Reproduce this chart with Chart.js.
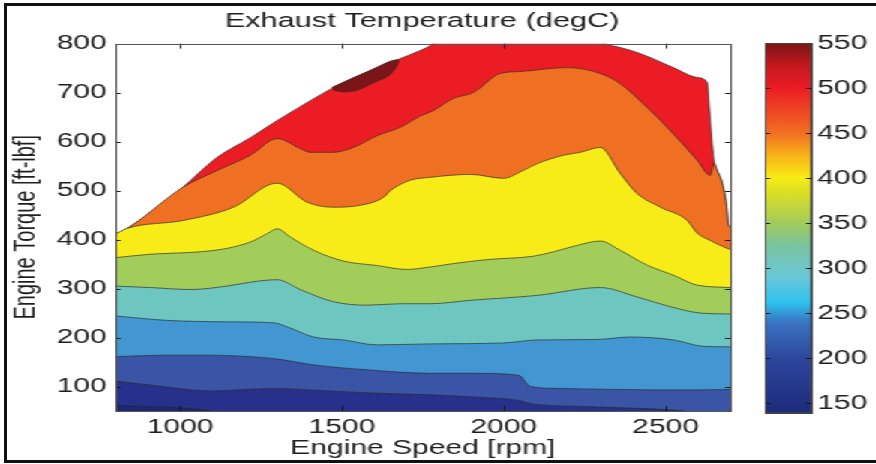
<!DOCTYPE html>
<html>
<head>
<meta charset="utf-8">
<title>Exhaust Temperature</title>
<script src="https://cdn.jsdelivr.net/npm/chart.js@4.4.1/dist/chart.umd.min.js"></script>
<style>
  html, body { margin: 0; padding: 0; background: #fff; }
  #figure { position: relative; width: 876px; height: 464px; overflow: hidden; background: #fff; }
  #frame { position: absolute; left: 4px; top: 3px; width: 900px; height: 460px; border: 3px solid #111; box-sizing: border-box; pointer-events: none; }
  /* the figure is drawn narrow and stretched sideways, like the exported plot */
  #stretch { position: absolute; left: 0; top: 0; width: 584px; height: 464px; transform: scaleX(1.5); transform-origin: 0 0; }
  #mapBox { position: absolute; left: 0; top: 0; width: 563px; height: 464px; }
  #barBox { position: absolute; left: 500px; top: 0; width: 84px; height: 464px; }
</style>
</head>
<body>
<div id="figure">
  <div id="stretch">
    <div id="mapBox"><canvas id="mapChart"></canvas></div>
    <div id="barBox"><canvas id="barChart"></canvas></div>
  </div>
  <div id="frame"></div>
</div>
<script>
const rpmTicks = [1000, 1500, 2000, 2500];
const torqueTicks = [100, 200, 300, 400, 500, 600, 700, 800];
const tempTicks = [150, 200, 250, 300, 350, 400, 450, 500, 550];
const tempRange = [139, 550];

// outline of the measured map [rpm, ft-lbf]
const mapEdge = [[800, 411], [831, 421], [856, 431], [1007, 506], [1115, 568], [1217, 608], [1300, 643],
  [1393, 680], [1473, 710], [1566, 739], [1671, 767], [1742, 786], [1773, 796], [1790, 806], [2290, 806],
  [2320, 798], [2360, 792], [2412, 782], [2462, 769], [2524, 751], [2598, 731], [2629, 720], [2634, 680],
  [2641, 620], [2650, 560], [2660, 540], [2675, 515], [2688, 470], [2694, 430], [2700, 425]];

// isotherms, each one the upper edge of the band below it [rpm, ft-lbf]
const iso500 = [[800, 411], [831, 421], [856, 431], [1007, 506], [1115, 541], [1217, 572], [1300, 606],
  [1371, 586], [1402, 578], [1473, 578], [1535, 588], [1609, 612], [1680, 629], [1742, 652], [1782, 663],
  [1844, 688], [1906, 700], [1989, 739], [2051, 743], [2196, 751], [2298, 739], [2360, 718], [2443, 670],
  [2514, 623], [2598, 562], [2638, 531], [2650, 556], [2660, 540], [2675, 515], [2688, 470], [2694, 430],
  [2700, 425]];
const iso450 = [[800, 411], [837, 423], [1010, 439], [1165, 466], [1300, 515], [1393, 476], [1473, 466],
  [1557, 470], [1628, 486], [1650, 500], [1711, 521], [1773, 527], [1897, 533], [1999, 525], [2060, 541],
  [2104, 555], [2184, 572], [2236, 578], [2298, 588], [2360, 535], [2412, 494], [2484, 466], [2567, 439],
  [2598, 413], [2638, 398], [2690, 382], [2700, 380]];
const iso400 = [[800, 363], [908, 370], [1063, 375], [1145, 382], [1217, 395], [1269, 412], [1300, 422],
  [1341, 405], [1413, 378], [1505, 356], [1608, 347], [1701, 339], [1773, 344], [1845, 351], [1948, 359],
  [2092, 366], [2154, 375], [2226, 388], [2298, 397], [2360, 378], [2442, 348], [2525, 327], [2597, 307],
  [2700, 302]];
const iso350 = [[800, 305], [908, 302], [1032, 298], [1145, 305], [1227, 314], [1300, 318], [1371, 298],
  [1474, 273], [1578, 266], [1680, 269], [1773, 269], [1897, 276], [2103, 286], [2298, 302], [2411, 283],
  [2514, 263], [2607, 250], [2700, 248]];
const iso300 = [[800, 244], [960, 235], [1145, 232], [1289, 230], [1330, 222], [1413, 201], [1505, 195],
  [1608, 185], [1773, 187], [1999, 189], [2103, 195], [2288, 196], [2391, 201], [2525, 195], [2617, 182],
  [2700, 181]];
const iso250 = [[800, 161], [960, 164], [1063, 164], [1289, 157], [1413, 144], [1578, 134], [1773, 127],
  [1897, 127], [2046, 123], [2082, 100], [2175, 96], [2484, 93], [2586, 93], [2700, 94]];
const iso200 = [[800, 111], [908, 103], [1093, 91], [1289, 96], [1371, 94], [1578, 87], [1773, 83],
  [1897, 79], [2041, 72], [2092, 64], [2257, 59], [2525, 52], [2560, 50]];
const iso150 = [[800, 62], [1040, 55], [1100, 50]];

// closed loop around the hottest patch
const hotSpot = [[1470, 711], [1566, 739], [1671, 767], [1650, 738], [1597, 720], [1535, 703], [1480, 704], [1470, 711]];

// drawn bottom-up: lower edges sit on top of the ones above them
const edges = [iso150, iso200, iso250, iso300, iso350, iso400, iso450, iso500, mapEdge];
const bandColors = ['#1C2673', '#27318B', '#3A55A6', '#4296D1', '#6DC6BF', '#A3CD5B', '#F7EC17', '#F07023', '#EC1C24'];
const hotColor = '#7C1517';

// colormap used by the colorbar
const cmapStops = [[139, '#1E2A7A'], [200, '#2C479D'], [240, '#3A74C2'], [262, '#2EC3EF'], [290, '#6CC8D8'],
  [325, '#79C4A0'], [350, '#A2CB5C'], [385, '#DCE023'], [400, '#F8EC15'], [425, '#F9B418'], [450, '#F27022'],
  [480, '#EE3E24'], [500, '#EC1C24'], [525, '#C4191F'], [550, '#7A1416']];

Chart.defaults.font.family = "'Liberation Sans', Arial, sans-serif";
Chart.defaults.font.size = 20;
Chart.defaults.color = '#1e1e1e';
Chart.defaults.animation = false;

const toXY = pts => pts.map(([x, y]) => ({ x, y }));
const fixedTicks = list => scale => { scale.ticks = list.map(v => ({ value: v })); };
const plainNumber = v => String(v);

// small inward tick marks on every side plus the axes box
const innerTicks = {
  id: 'innerTicks',
  afterDraw(chart, args, opts) {
    const { ctx, chartArea: a, scales } = chart;
    ctx.save();
    ctx.strokeStyle = opts.tickColor;
    ctx.lineWidth = 1;
    ctx.beginPath();
    if (opts.xLen) {
      scales.x.ticks.forEach(t => {
        const px = Math.round(scales.x.getPixelForValue(t.value)) + 0.5;
        ctx.moveTo(px, a.bottom); ctx.lineTo(px, a.bottom - opts.xLen);
        ctx.moveTo(px, a.top); ctx.lineTo(px, a.top + opts.xLen);
      });
    }
    scales.y.ticks.forEach(t => {
      const py = Math.round(scales.y.getPixelForValue(t.value)) + 0.5;
      ctx.moveTo(a.left, py); ctx.lineTo(a.left + opts.yLen, py);
      ctx.moveTo(a.right, py); ctx.lineTo(a.right - opts.yLen, py);
    });
    ctx.stroke();
    ctx.strokeStyle = opts.boxColor;
    ctx.strokeRect(Math.round(a.left) + 0.5, Math.round(a.top) + 0.5, Math.round(a.width), Math.round(a.height));
    ctx.restore();
  }
};

const datasets = [{
  data: toXY(hotSpot),
  backgroundColor: hotColor,
  borderColor: 'rgba(45,35,35,0.85)',
  borderWidth: 0.8,
  tension: 0.4,
  fill: 'shape'
}].concat(edges.map((edge, i) => ({
  data: toXY(edge),
  backgroundColor: bandColors[i],
  borderColor: 'rgba(45,45,45,0.85)',
  borderWidth: 0.8,
  cubicInterpolationMode: 'monotone',
  fill: 'start'
})));

new Chart(document.getElementById('mapChart'), {
  type: 'line',
  data: { datasets },
  plugins: [innerTicks],
  options: {
    responsive: true,
    maintainAspectRatio: false,
    events: [],
    layout: { padding: 0 },
    elements: { point: { radius: 0 } },
    plugins: {
      legend: { display: false },
      tooltip: { enabled: false },
      title: {
        display: true,
        text: 'Exhaust Temperature (degC)',
        font: { size: 20.5, weight: 'normal' },
        color: '#1e1e1e',
        padding: { top: 9, bottom: 10 }
      },
      innerTicks: { xLen: 5, yLen: 3.5, tickColor: '#111', boxColor: '#555' }
    },
    scales: {
      x: {
        type: 'linear',
        min: 800,
        max: 2700,
        grid: { display: false, drawTicks: false },
        border: { display: false },
        ticks: { padding: 4, callback: plainNumber },
        afterBuildTicks: fixedTicks(rpmTicks),
        afterFit: s => { s.height = 53; },
        title: { display: true, text: 'Engine Speed [rpm]', padding: { top: 4, bottom: 4 } }
      },
      y: {
        type: 'linear',
        min: 50,
        max: 800,
        grid: { display: false, drawTicks: false },
        border: { display: false },
        ticks: { padding: 6, callback: plainNumber },
        afterBuildTicks: fixedTicks(torqueTicks),
        afterFit: s => { s.width = 77; },
        title: { display: true, text: 'Engine Torque [ft-lbf]', padding: { top: 5, bottom: 5 } }
      },
      // empty right-hand axis that keeps room for the colorbar
      yRight: {
        type: 'linear',
        position: 'right',
        min: 50,
        max: 800,
        grid: { display: false, drawTicks: false },
        border: { display: false },
        ticks: { display: false },
        afterFit: s => { s.width = 76; }
      }
    }
  }
});

new Chart(document.getElementById('barChart'), {
  type: 'bar',
  data: {
    labels: [''],
    datasets: [{
      data: [tempRange],
      barPercentage: 1,
      categoryPercentage: 1,
      borderColor: '#444',
      borderWidth: 1,
      borderSkipped: false,
      backgroundColor(c) {
        const chart = c.chart;
        const y = chart.scales.y;
        if (!chart.chartArea || !y) return cmapStops[0][1];
        const g = chart.ctx.createLinearGradient(0, y.getPixelForValue(tempRange[0]), 0, y.getPixelForValue(tempRange[1]));
        cmapStops.forEach(([v, col]) => g.addColorStop((v - tempRange[0]) / (tempRange[1] - tempRange[0]), col));
        return g;
      }
    }]
  },
  plugins: [innerTicks],
  options: {
    responsive: true,
    maintainAspectRatio: false,
    events: [],
    layout: { padding: { left: 10, right: 0, top: 43, bottom: 51 } },
    plugins: {
      legend: { display: false },
      tooltip: { enabled: false },
      innerTicks: { xLen: 0, yLen: 3.5, tickColor: '#111', boxColor: '#444' }
    },
    scales: {
      x: { display: false },
      y: {
        position: 'right',
        min: tempRange[0],
        max: tempRange[1],
        grid: { display: false, drawTicks: false },
        border: { display: false },
        ticks: { padding: 4 },
        afterBuildTicks: fixedTicks(tempTicks),
        afterFit: s => { s.width = 43; }
      }
    }
  }
});
</script>
</body>
</html>
